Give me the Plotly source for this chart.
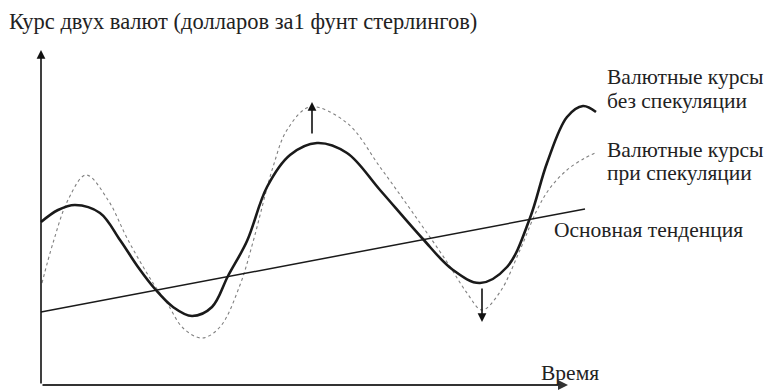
import plotly.graph_objects as go

# Schematic data (time units along x, rate units along y; origin at axes corner)
t_base = [0, 17, 34, 59, 79, 97, 114, 132, 151, 171, 187, 206, 226, 249, 276, 306, 339,
          381, 412, 439, 466, 489, 506, 526, 542, 555]
rate_base = [163, 175, 180, 172, 145, 118, 96, 78, 69, 78, 109, 144, 198, 230, 242, 232, 195,
             147, 115, 102, 118, 167, 222, 268, 279, 273]

t_spec = [1, 12, 27, 45, 67, 87, 112, 126, 142, 161, 179, 199, 212, 232, 246, 269, 306, 339,
          372, 406, 426, 441, 459, 479, 496, 509, 526, 544, 556]
rate_spec = [102, 142, 185, 210, 185, 145, 102, 82, 57, 47, 58, 100, 143, 218, 255, 278, 262, 218,
             172, 123, 92, 75, 93, 135, 175, 197, 215, 227, 233]

t_trend = [0, 544]
rate_trend = [73, 176]

t_max_axis = 527
rate_max_axis = 335

arrow_up = dict(t=271, start=250, end=283)
arrow_down = dict(t=441, start=98, end=63)

title_text = "Курс двух валют (долларов за1 фунт стерлингов)"
label_base = ["Валютные курсы", "без спекуляции"]
label_spec = ["Валютные курсы", "при спекуляции"]
label_trend = "Основная тенденция"
label_time = "Время"

FONT = "Liberation Serif, Times New Roman, serif"

fig = go.Figure()
fig.add_trace(go.Scatter(x=t_spec, y=rate_spec, mode="lines", line_shape="spline",
                         line=dict(color="#808080", width=1.1, dash="dot"), hoverinfo="skip"))
fig.add_trace(go.Scatter(x=t_trend, y=rate_trend, mode="lines",
                         line=dict(color="#1a1a1a", width=1.5), hoverinfo="skip"))
fig.add_trace(go.Scatter(x=t_base, y=rate_base, mode="lines", line_shape="spline",
                         line=dict(color="#1a1a1a", width=2.6), hoverinfo="skip"))

anns = []
# axes with arrowheads
anns.append(dict(x=0, y=rate_max_axis, ax=0, ay=0, xref="x", yref="y", axref="x", ayref="y",
                 showarrow=True, arrowhead=2, arrowsize=1.1, arrowwidth=1.6, arrowcolor="#111", text=""))
anns.append(dict(x=t_max_axis, y=0, ax=0, ay=0, xref="x", yref="y", axref="x", ayref="y",
                 showarrow=True, arrowhead=2, arrowsize=1.0, arrowwidth=2, arrowcolor="#333", text=""))
# speculation arrows
for a in (arrow_up, arrow_down):
    anns.append(dict(x=a["t"], y=a["end"], ax=a["t"], ay=a["start"], xref="x", yref="y",
                     axref="x", ayref="y", showarrow=True, arrowhead=2, arrowsize=1.1,
                     arrowwidth=1.6, arrowcolor="#111", text=""))

def label(text, x, y, size):
    return dict(text=text, x=x, y=y, xref="x", yref="y", showarrow=False, xanchor="left",
                yanchor="middle", align="left", font=dict(family=FONT, size=size, color="#222"))

anns.append(dict(text=title_text, x=0, y=1, xref="paper", yref="paper", showarrow=False,
                 xanchor="left", yanchor="top", align="left", borderpad=0,
                 font=dict(family=FONT, size=22.5, color="#222")))
anns.append(label(label_base[0], 564, 308, 21.5))
anns.append(label(label_base[1], 564, 284, 21.5))
anns.append(label(label_spec[0], 564, 235, 21.5))
anns.append(label(label_spec[1], 564, 212, 21.5))
anns.append(label(label_trend, 511, 155, 21.5))
anns.append(label(label_time, 498, 12, 21.5))

# page body has an 8px margin: ranges chosen so the origin sits at the reference spot
fig.update_layout(
    width=773, height=390, margin=dict(l=0, r=0, t=0, b=0),
    paper_bgcolor="white", plot_bgcolor="white", showlegend=False,
    xaxis=dict(range=[-33, 740], visible=False, fixedrange=True),
    yaxis=dict(range=[-13, 377], visible=False, fixedrange=True),
    annotations=anns,
)
fig.write_html("out.html")
